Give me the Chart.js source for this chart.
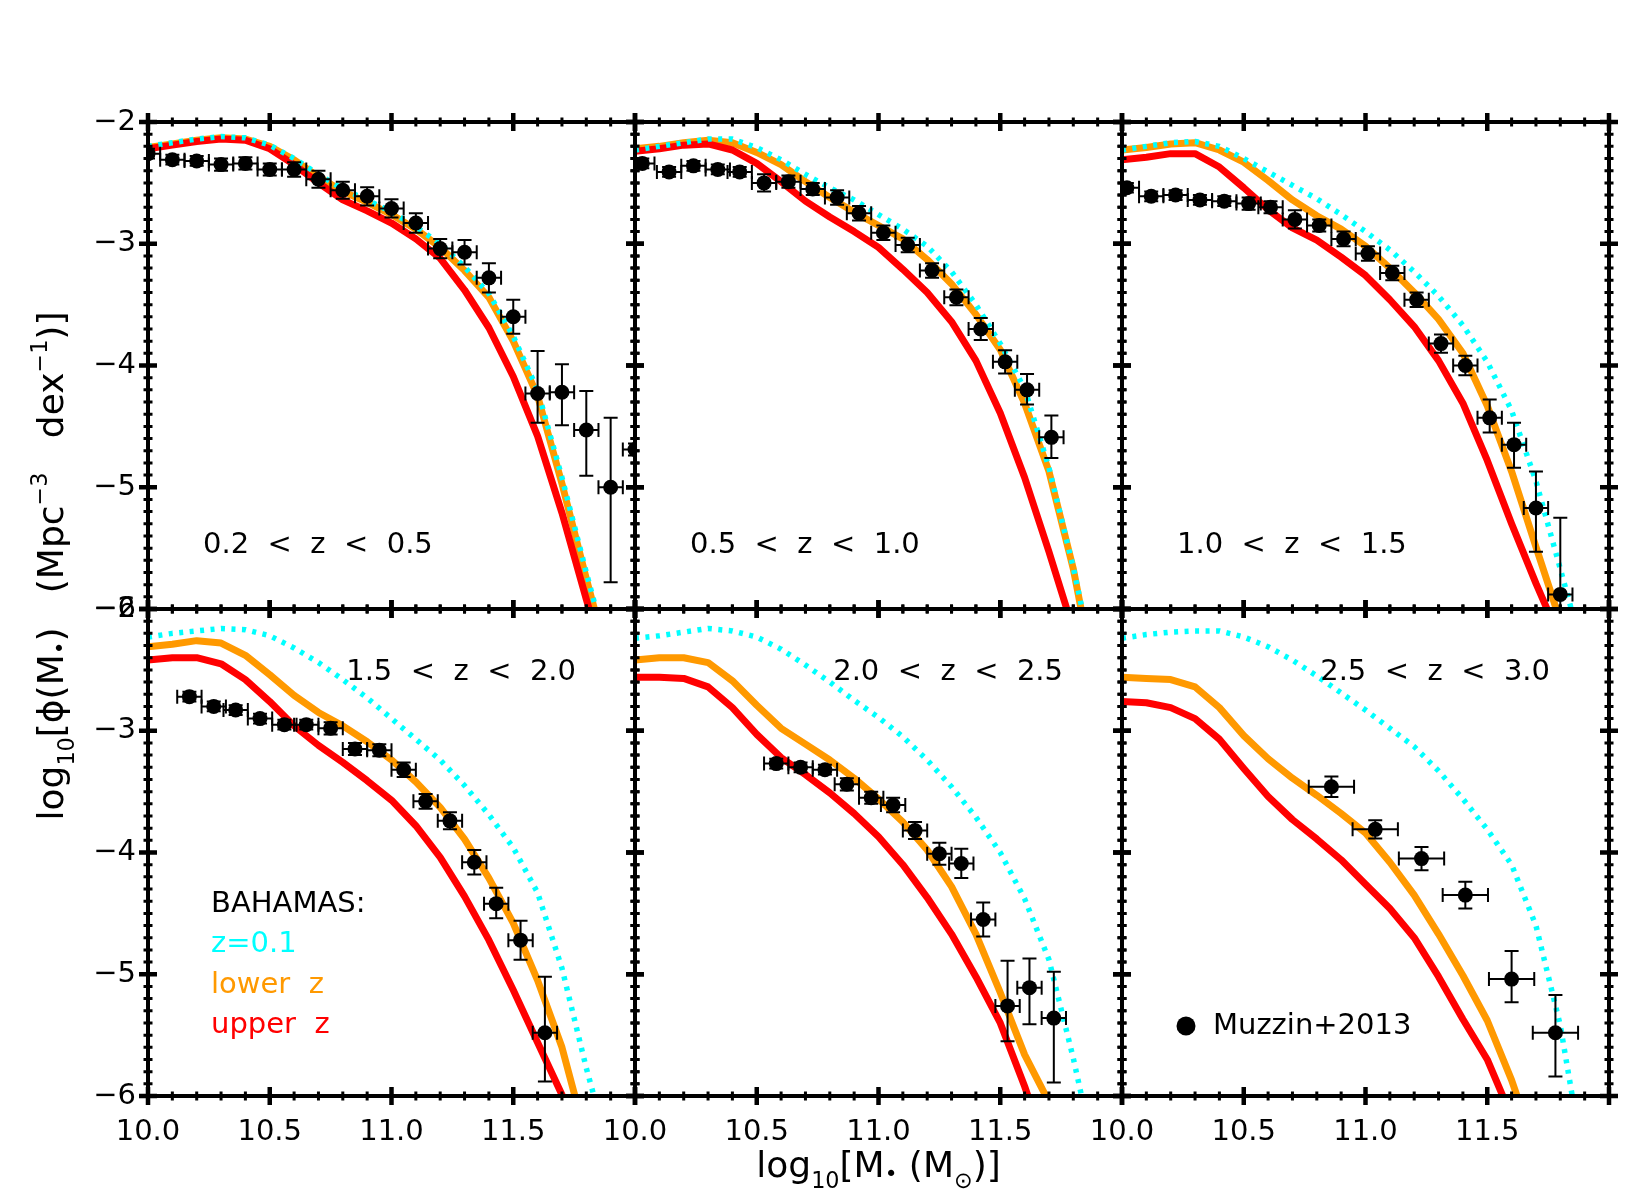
<!DOCTYPE html>
<html>
<head>
<meta charset="utf-8">
<script src="https://cdn.jsdelivr.net/npm/chart.js@4.4.1/dist/chart.umd.min.js"></script>
<style>
  html, body { margin: 0; padding: 0; background: #fff; }
  #wrap { position: relative; width: 1652px; height: 1190px; }
  #wrap canvas { position: absolute; left: 0; top: 0; }
</style>
</head>
<body>
<div id="wrap"></div>
<script>
// ---- data ----
const massGrid = [10.0, 10.1, 10.2, 10.3, 10.4, 10.5, 10.6, 10.7, 10.8, 10.9, 11.0,
                  11.1, 11.2, 11.3, 11.4, 11.5, 11.6, 11.7, 11.8, 11.9, 12.0];
const massTicks = ['10.0', '10.5', '11.0', '11.5', ''];
const phiTicks = ['−6', '−5', '−4', '−3', '−2'];
const zLabels = ['0.2  <  z  <  0.5', '0.5  <  z  <  1.0', '1.0  <  z  <  1.5',
                 '1.5  <  z  <  2.0', '2.0  <  z  <  2.5', '2.5  <  z  <  3.0'];

// BAHAMAS z=0.1 (cyan dotted), one row per panel, on massGrid
const cyanPhi = [
  [-2.20,-2.17,-2.14,-2.12,-2.13,-2.19,-2.30,-2.43,-2.55,-2.64,-2.74,-2.86,-3.00,-3.19,-3.41,-3.76,-4.20,-4.92,-5.70,-6.45,-7.20],
  [-2.23,-2.20,-2.17,-2.14,-2.14,-2.21,-2.31,-2.43,-2.54,-2.64,-2.76,-2.88,-3.02,-3.23,-3.50,-3.82,-4.19,-4.84,-5.66,-6.60,-7.50],
  [-2.23,-2.20,-2.17,-2.16,-2.20,-2.30,-2.41,-2.52,-2.63,-2.76,-2.90,-3.05,-3.23,-3.43,-3.67,-3.97,-4.37,-4.95,-5.67,-6.40,-7.20],
  [-2.23,-2.20,-2.18,-2.16,-2.17,-2.22,-2.32,-2.44,-2.58,-2.73,-2.90,-3.07,-3.24,-3.45,-3.69,-3.96,-4.33,-4.95,-5.77,-6.50,-7.30],
  [-2.24,-2.22,-2.19,-2.16,-2.18,-2.23,-2.33,-2.46,-2.60,-2.75,-2.89,-3.05,-3.24,-3.46,-3.71,-4.00,-4.38,-4.88,-5.69,-6.60,-7.40],
  [-2.24,-2.21,-2.19,-2.18,-2.18,-2.23,-2.31,-2.42,-2.55,-2.69,-2.83,-2.98,-3.13,-3.33,-3.56,-3.81,-4.10,-4.60,-5.42,-6.60,-7.60]
];
// BAHAMAS lower z (orange)
const orangePhi = [
  [-2.21,-2.18,-2.15,-2.13,-2.14,-2.20,-2.31,-2.45,-2.57,-2.66,-2.76,-2.88,-3.03,-3.22,-3.44,-3.80,-4.25,-4.97,-5.75,-6.50,-7.20],
  [-2.22,-2.20,-2.17,-2.15,-2.17,-2.25,-2.35,-2.49,-2.62,-2.74,-2.85,-2.96,-3.13,-3.33,-3.58,-3.87,-4.31,-4.87,-5.67,-6.70,-7.60],
  [-2.23,-2.21,-2.18,-2.17,-2.23,-2.33,-2.48,-2.64,-2.77,-2.88,-3.02,-3.20,-3.40,-3.62,-3.90,-4.33,-4.87,-5.49,-6.10,-6.80,-7.50],
  [-2.31,-2.29,-2.26,-2.28,-2.38,-2.54,-2.71,-2.85,-2.96,-3.09,-3.24,-3.42,-3.63,-3.89,-4.21,-4.58,-5.05,-5.60,-6.35,-7.00,-7.70],
  [-2.42,-2.40,-2.40,-2.44,-2.59,-2.79,-2.98,-3.11,-3.24,-3.39,-3.56,-3.75,-3.98,-4.28,-4.67,-5.15,-5.66,-6.05,-6.60,-7.20,-7.80],
  [-2.56,-2.57,-2.58,-2.64,-2.81,-3.04,-3.23,-3.39,-3.53,-3.68,-3.84,-4.08,-4.35,-4.67,-5.01,-5.38,-5.87,-6.45,-7.00,-7.60,-8.20]
];
// BAHAMAS upper z (red)
const redPhi = [
  [-2.22,-2.19,-2.16,-2.14,-2.15,-2.22,-2.35,-2.50,-2.64,-2.73,-2.83,-2.96,-3.12,-3.38,-3.69,-4.09,-4.58,-5.21,-5.92,-6.60,-7.30],
  [-2.24,-2.22,-2.19,-2.18,-2.23,-2.34,-2.49,-2.65,-2.78,-2.90,-3.03,-3.21,-3.40,-3.64,-3.96,-4.39,-4.92,-5.53,-6.17,-6.80,-7.40],
  [-2.31,-2.29,-2.26,-2.26,-2.37,-2.54,-2.72,-2.87,-2.97,-3.11,-3.26,-3.46,-3.68,-3.96,-4.31,-4.78,-5.30,-5.79,-6.25,-6.80,-7.40],
  [-2.42,-2.40,-2.40,-2.45,-2.58,-2.76,-2.96,-3.12,-3.26,-3.41,-3.57,-3.78,-4.04,-4.36,-4.72,-5.13,-5.56,-5.99,-6.42,-6.85,-7.30],
  [-2.56,-2.56,-2.57,-2.64,-2.81,-3.03,-3.22,-3.36,-3.51,-3.68,-3.87,-4.10,-4.37,-4.67,-5.02,-5.40,-5.92,-6.50,-7.10,-7.70,-8.30],
  [-2.76,-2.77,-2.81,-2.90,-3.07,-3.31,-3.54,-3.73,-3.89,-4.06,-4.26,-4.46,-4.70,-5.02,-5.37,-5.70,-6.17,-6.70,-7.20,-7.70,-8.20]
];

// Muzzin+2013 points
const muzMass = [
  [10.0,10.1,10.2,10.3,10.4,10.5,10.6,10.7,10.8,10.9,11.0,11.1,11.2,11.3,11.4,11.5,11.6,11.7,11.8,11.9,12.0],
  [10.03,10.14,10.24,10.34,10.43,10.53,10.63,10.73,10.83,10.92,11.02,11.12,11.22,11.32,11.42,11.52,11.61,11.71],
  [10.02,10.12,10.22,10.32,10.42,10.52,10.61,10.71,10.81,10.91,11.01,11.11,11.21,11.31,11.41,11.51,11.61,11.70,11.80],
  [10.17,10.27,10.36,10.46,10.56,10.65,10.75,10.85,10.95,11.05,11.14,11.24,11.34,11.43,11.53,11.63],
  [10.58,10.68,10.78,10.87,10.97,11.06,11.15,11.25,11.34,11.43,11.53,11.62,11.72],
  [10.86,11.04,11.23,11.41,11.60,11.78]
];
const muzPhi = [
  [-2.26,-2.31,-2.32,-2.35,-2.34,-2.39,-2.39,-2.47,-2.56,-2.61,-2.71,-2.83,-3.04,-3.07,-3.28,-3.60,-4.23,-4.22,-4.53,-5.00,-4.69],
  [-2.34,-2.41,-2.36,-2.39,-2.41,-2.50,-2.49,-2.55,-2.62,-2.75,-2.91,-3.01,-3.22,-3.44,-3.70,-3.97,-4.20,-4.59],
  [-2.54,-2.61,-2.60,-2.64,-2.65,-2.67,-2.70,-2.80,-2.85,-2.96,-3.08,-3.24,-3.46,-3.82,-4.00,-4.43,-4.65,-5.17,-5.88],
  [-2.72,-2.80,-2.83,-2.90,-2.95,-2.95,-2.98,-3.15,-3.16,-3.32,-3.58,-3.74,-4.08,-4.42,-4.72,-5.48],
  [-3.27,-3.30,-3.32,-3.44,-3.55,-3.61,-3.82,-4.01,-4.09,-4.55,-5.26,-5.11,-5.36],
  [-3.46,-3.81,-4.05,-4.35,-5.04,-5.48]
];
const muzErrHi = [
  [0.04,0.04,0.04,0.05,0.05,0.05,0.06,0.07,0.07,0.075,0.075,0.08,0.08,0.10,0.12,0.14,0.35,0.23,0.32,0.57,0.05],
  [0.04,0.04,0.04,0.04,0.04,0.07,0.05,0.05,0.06,0.06,0.06,0.06,0.06,0.065,0.09,0.095,0.13,0.18],
  [0.04,0.04,0.04,0.04,0.04,0.05,0.05,0.075,0.05,0.06,0.06,0.06,0.06,0.075,0.08,0.15,0.18,0.30,0.63],
  [0.04,0.04,0.04,0.04,0.04,0.04,0.05,0.05,0.05,0.06,0.06,0.07,0.10,0.13,0.16,0.46],
  [0.04,0.04,0.04,0.05,0.05,0.06,0.07,0.09,0.12,0.14,0.37,0.24,0.38],
  [0.085,0.075,0.095,0.11,0.23,0.31]
];
const muzErrLo = [
  [0.04,0.04,0.04,0.05,0.05,0.05,0.06,0.07,0.07,0.075,0.075,0.08,0.08,0.10,0.12,0.14,0.24,0.27,0.375,0.78,0.05],
  [0.04,0.04,0.04,0.04,0.04,0.07,0.05,0.05,0.06,0.06,0.06,0.06,0.06,0.065,0.09,0.095,0.12,0.17],
  [0.04,0.04,0.04,0.04,0.04,0.05,0.05,0.075,0.05,0.06,0.06,0.06,0.06,0.075,0.08,0.12,0.19,0.36,0.70],
  [0.04,0.04,0.04,0.04,0.04,0.04,0.05,0.05,0.05,0.06,0.06,0.07,0.10,0.12,0.16,0.40],
  [0.04,0.04,0.04,0.05,0.05,0.06,0.07,0.09,0.12,0.14,0.29,0.30,0.53],
  [0.085,0.075,0.095,0.11,0.19,0.36]
];
const muzMassErr = [0.05, 0.05, 0.05, 0.05, 0.05, 0.093];

// ---- layout ----
const FONT = '"DejaVu Sans", sans-serif';
const cols = [148, 635, 1122, 1609];
const rows = [122, 609, 1096];
const Y_AXIS_W = 120, X_AXIS_H = 70;
const CYAN = '#00FFFF', ORANGE = '#FF9900', RED = '#FF0000';

Chart.defaults.font.family = FONT;
Chart.defaults.color = '#000';

function drawRuns(ctx, runs, x, y, size, align) {
  let w = 0;
  runs.forEach(r => {
    ctx.font = (size * r[1]) + 'px ' + FONT;
    w += ctx.measureText(r[0]).width;
  });
  let cx = align === 'center' ? x - w / 2 : x;
  runs.forEach(r => {
    ctx.font = (size * r[1]) + 'px ' + FONT;
    ctx.fillText(r[0], cx, y + r[2] * size);
    cx += ctx.measureText(r[0]).width;
  });
}

const xTitle = [['log', 1, 0], ['10', 0.62, 0.3], ['[M', 1, 0], ['•', 0.6, 0.12],
                [' (M', 1, 0], ['⊙', 0.62, 0.3], [')]', 1, 0]];
const yTitle = [['log', 1, 0], ['10', 0.62, 0.3], ['[ϕ(M', 1, 0], ['•', 0.6, 0.12],
                [')   (Mpc', 1, 0], ['−3', 0.62, -0.45], ['   dex', 1, 0], ['−1', 0.62, -0.45], [')]', 1, 0]];

function decor(i) {
  return {
    id: 'decor' + i,
    afterDatasetsDraw(chart) {
      const { ctx, chartArea: a, scales: { x, y } } = chart;

      // error bars
      ctx.save();
      ctx.beginPath();
      ctx.rect(a.left, a.top, a.width, a.height);
      ctx.clip();
      ctx.strokeStyle = '#000';
      ctx.lineWidth = 2;
      const dx = muzMassErr[i];
      muzMass[i].forEach((m, k) => {
        const v = muzPhi[i][k];
        const px = x.getPixelForValue(m), py = y.getPixelForValue(v);
        const top = y.getPixelForValue(v + muzErrHi[i][k]);
        const bot = y.getPixelForValue(v - muzErrLo[i][k]);
        const l = x.getPixelForValue(m - dx), r = x.getPixelForValue(m + dx);
        ctx.beginPath();
        ctx.moveTo(px, top); ctx.lineTo(px, bot);
        ctx.moveTo(px - 7, top); ctx.lineTo(px + 7, top);
        ctx.moveTo(px - 7, bot); ctx.lineTo(px + 7, bot);
        ctx.moveTo(l, py); ctx.lineTo(r, py);
        ctx.moveTo(l, py - 7); ctx.lineTo(l, py + 7);
        ctx.moveTo(r, py - 7); ctx.lineTo(r, py + 7);
        ctx.stroke();
      });
      ctx.restore();

      // frame with IDL-style ticks on all four sides
      ctx.save();
      ctx.strokeStyle = '#000';
      ctx.lineWidth = 4;
      ctx.strokeRect(a.left, a.top, a.width, a.height);
      for (let k = 0; k <= 20; k++) {
        const px = x.getPixelForValue(10 + k * 0.1);
        const major = k % 5 === 0;
        const len = major ? 9 : 4.5;
        ctx.lineWidth = major ? 4.5 : 3;
        ctx.beginPath();
        ctx.moveTo(px, a.top - len); ctx.lineTo(px, a.top + len);
        ctx.moveTo(px, a.bottom - len); ctx.lineTo(px, a.bottom + len);
        ctx.stroke();
      }
      for (let k = 0; k <= 40; k++) {
        const py = y.getPixelForValue(-6 + k * 0.1);
        const major = k % 10 === 0;
        const len = major ? 9 : 4.5;
        ctx.lineWidth = major ? 4.5 : 3;
        ctx.beginPath();
        ctx.moveTo(a.left - len, py); ctx.lineTo(a.left + len, py);
        ctx.moveTo(a.right - len, py); ctx.lineTo(a.right + len, py);
        ctx.stroke();
      }
      ctx.restore();

      // texts
      ctx.save();
      ctx.fillStyle = '#000';
      ctx.textBaseline = 'middle';
      ctx.font = '29px ' + FONT;
      if (i < 3) {
        ctx.textAlign = 'left';
        ctx.fillText(zLabels[i], a.left + 55, a.top + 423);
      } else {
        ctx.textAlign = 'right';
        ctx.fillText(zLabels[i], a.left + 428, a.top + 63);
      }
      ctx.textAlign = 'left';
      if (i === 3) {
        const items = [['BAHAMAS:', '#000'], ['z=0.1', CYAN], ['lower  z', ORANGE], ['upper  z', RED]];
        items.forEach((it, k) => {
          ctx.fillStyle = it[1];
          ctx.fillText(it[0], a.left + 63, a.top + 295 + k * 40.5);
        });
        // y axis title
        ctx.fillStyle = '#000';
        ctx.textBaseline = 'alphabetic';
        ctx.translate(63, 566);
        ctx.rotate(-Math.PI / 2);
        drawRuns(ctx, yTitle, 0, 0, 36, 'center');
      }
      if (i === 4) {
        ctx.fillStyle = '#000';
        ctx.textBaseline = 'alphabetic';
        drawRuns(ctx, xTitle, (cols[1] + cols[2]) / 2, 1177, 36, 'center');
      }
      if (i === 5) {
        ctx.fillStyle = '#000';
        ctx.beginPath();
        ctx.arc(a.left + 64, a.top + 417, 9.5, 0, Math.PI * 2);
        ctx.fill();
        ctx.fillText('Muzzin+2013', a.left + 91, a.top + 417);
      }
      ctx.restore();
    }
  };
}

const wrap = document.getElementById('wrap');
for (let i = 0; i < 6; i++) {
  const col = i % 3, row = Math.floor(i / 3);
  const cv = document.createElement('canvas');
  cv.width = 1652; cv.height = 1190;
  wrap.appendChild(cv);

  const yW = col === 0 ? Y_AXIS_W : 0;
  const xH = row === 1 ? X_AXIS_H : 0;

  const line = (phi, color, width, dash) => ({
    data: massGrid.map((m, k) => ({ x: m, y: phi[k] })),
    showLine: true,
    borderColor: color,
    borderWidth: width,
    borderDash: dash,
    borderCapStyle: 'butt',
    borderJoinStyle: 'round',
    pointRadius: 0,
    tension: 0,
    clip: 0
  });

  new Chart(cv, {
    type: 'scatter',
    data: {
      datasets: [
        {
          data: muzMass[i].map((m, k) => ({ x: m, y: muzPhi[i][k] })),
          pointRadius: 7.5,
          pointBackgroundColor: '#000',
          pointBorderWidth: 0,
          clip: 0
        },
        line(cyanPhi[i], CYAN, 5.5, [4, 6.5]),
        line(redPhi[i], RED, 7, []),
        line(orangePhi[i], ORANGE, 7, [])
      ]
    },
    options: {
      responsive: false,
      animation: false,
      devicePixelRatio: 1,
      events: [],
      layout: {
        autoPadding: false,
        padding: {
          left: cols[col] - yW,
          right: 1652 - cols[col + 1],
          top: rows[row],
          bottom: 1190 - rows[row + 1] - xH
        }
      },
      plugins: { legend: { display: false }, tooltip: { enabled: false } },
      scales: {
        x: {
          type: 'linear', position: 'bottom', min: 10, max: 12,
          grid: { display: false, drawTicks: false },
          border: { display: false },
          ticks: {
            display: row === 1, stepSize: 0.5, autoSkip: false, maxRotation: 0, minRotation: 0,
            padding: 19, font: { size: 29 }, color: '#000',
            callback: (v, k) => massTicks[k]
          },
          afterFit: s => { s.height = xH; }
        },
        y: {
          type: 'linear', position: 'left', min: -6, max: -2,
          grid: { display: false, drawTicks: false },
          border: { display: false },
          ticks: {
            display: col === 0, stepSize: 1, autoSkip: false,
            padding: 12, font: { size: 29 }, color: '#000',
            callback: (v, k) => phiTicks[k]
          },
          afterFit: s => { s.width = yW; }
        }
      }
    },
    plugins: [decor(i)]
  });
}
</script>
</body>
</html>
